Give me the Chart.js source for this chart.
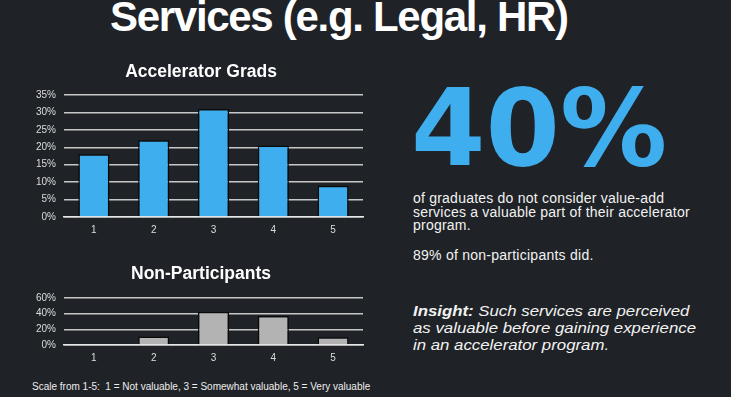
<!DOCTYPE html>
<html><head><meta charset="utf-8">
<script src="https://cdn.jsdelivr.net/npm/chart.js@4.4.0/dist/chart.umd.min.js"></script>
<style>
html,body{margin:0;padding:0;}
body{width:731px;height:397px;background:#1f2226;position:relative;overflow:hidden;font-family:"Liberation Sans",Arial,sans-serif;color:#fff;}
.abs{position:absolute;white-space:nowrap;}
#title{left:110px;top:-4px;font-size:42px;line-height:42px;font-weight:bold;letter-spacing:-1.3px;}
#big{left:411px;top:75px;font-size:107px;line-height:107px;font-weight:bold;color:#3eaeee;font-family:"DejaVu Sans",sans-serif;}
#para{left:413px;top:192.3px;font-size:14px;line-height:13.4px;letter-spacing:0.22px;color:#f2f2f2;}
#p2{left:413px;top:249.3px;font-size:14px;line-height:13.4px;letter-spacing:0.25px;color:#f2f2f2;}
#insight{left:413px;top:303px;font-size:14px;line-height:16.8px;font-style:italic;color:#f2f2f2;transform:scaleX(1.2);transform-origin:0 0;}
#foot{left:32px;top:381px;font-size:10px;line-height:12px;color:#eee;}
#c1wrap{position:absolute;left:20px;top:60px;width:362px;height:183px;}
#c2wrap{position:absolute;left:20px;top:262px;width:362px;height:109px;}
</style></head><body>
<div class="abs" id="title">Services (e.g. Legal, HR)</div>
<div id="c1wrap"><canvas id="c1"></canvas></div>
<div id="c2wrap"><canvas id="c2"></canvas></div>
<div class="abs" id="big">40%</div>
<div class="abs" id="para">of graduates do not consider value-add<br>services a valuable part of their accelerator<br>program.</div>
<div class="abs" id="p2">89% of non-participants did.</div>
<div class="abs" id="insight"><b>Insight:</b> Such services are perceived<br>as valuable before gaining experience<br>in an accelerator program.</div>
<div class="abs" id="foot">Scale from 1-5:&nbsp; 1 = Not valuable, 3 = Somewhat valuable, 5 = Very valuable</div>
<script>
const categories = ['1','2','3','4','5'];
const gradsValues = [18, 22, 31, 20.5, 9];
const nonPartValues = [0, 11, 42, 37, 10];
const gradsTicks = [0, 5, 10, 15, 20, 25, 30, 35];
const nonPartTicks = [0, 20, 40, 60];

Chart.defaults.font.family = '"Liberation Sans", Arial, sans-serif';
Chart.defaults.animation = false;

const shiftTitle = {
  id: 'shiftTitle',
  afterLayout(chart) { if (chart.titleBlock) { chart.titleBlock.left += 19; } }
};

function makeChart(id, title, values, color, tickList, titlePad) {
  return new Chart(document.getElementById(id), {
    type: 'bar',
    data: { labels: categories, datasets: [{ data: values, backgroundColor: color, borderColor: '#0a0a0a', borderWidth: 1.5, barPercentage: 0.52, categoryPercentage: 1 }] },
    options: {
      responsive: true, maintainAspectRatio: false,
      layout: { padding: { right: 19, left: 0, top: 0, bottom: 0 } },
      plugins: {
        legend: { display: false }, tooltip: { enabled: false },
        title: { display: true, text: title, color: '#ffffff', font: { size: 17.5, weight: 'bold' }, padding: titlePad }
      },
      scales: {
        x: { grid: { display: false, drawTicks: false }, border: { display: true, color: '#e8e8e8', width: 1.5 },
             ticks: { color: '#dddddd', font: { size: 10 }, padding: 7 } },
        y: { min: tickList[0], max: tickList[tickList.length - 1],
             grid: { color: '#c8c8c8', lineWidth: 1.5, drawTicks: false }, border: { display: false },
             ticks: { autoSkip: false, color: '#dddddd', font: { size: 10 }, padding: 8, callback: v => v + '%' },
             afterBuildTicks: s => { s.ticks = tickList.map(v => ({ value: v })); },
             afterFit: s => { s.width = 44; } }
      }
    },
    plugins: [shiftTitle]
  });
}
makeChart('c1', 'Accelerator Grads', gradsValues, '#3eaeee', gradsTicks, { top: 2, bottom: 12 });
makeChart('c2', 'Non-Participants', nonPartValues, '#b3b3b3', nonPartTicks, { top: 2, bottom: 13 });
</script>
</body></html>
